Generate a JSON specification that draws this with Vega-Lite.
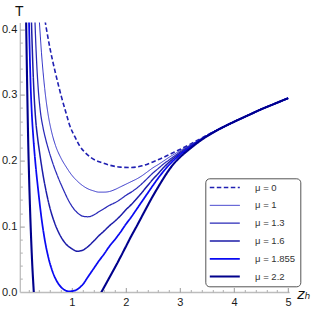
{
  "$schema": "https://vega.github.io/schema/vega-lite/v6.json",
  "width": 269.4,
  "height": 269.4,
  "autosize": {"type": "none"},
  "padding": {"left": 19.8, "top": 22.6, "right": 21.8, "bottom": 19},
  "background": "white",
  "config": {
    "view": {"stroke": null},
    "axis": {"grid": false, "labelFont": "Liberation Sans", "labelFontSize": 11, "labelColor": "#1a1a1a", "labelFlush": false, "labelOverlap": false}
  },
  "data": {"values": [
    {"mu":"μ = 0","z":0.47,"T":0.445},{"mu":"μ = 0","z":0.51,"T":0.412},{"mu":"μ = 0","z":0.55,"T":0.392},{"mu":"μ = 0","z":0.6,"T":0.37},{"mu":"μ = 0","z":0.7,"T":0.333},{"mu":"μ = 0","z":0.81,"T":0.297},{"mu":"μ = 0","z":0.9,"T":0.271},{"mu":"μ = 0","z":0.96,"T":0.254},{"mu":"μ = 0","z":1.06,"T":0.236},{"mu":"μ = 0","z":1.15,"T":0.222},{"mu":"μ = 0","z":1.25,"T":0.212},{"mu":"μ = 0","z":1.35,"T":0.205},{"mu":"μ = 0","z":1.45,"T":0.2},{"mu":"μ = 0","z":1.55,"T":0.197},{"mu":"μ = 0","z":1.7,"T":0.193},{"mu":"μ = 0","z":1.9,"T":0.19},{"mu":"μ = 0","z":2.1,"T":0.1895},{"mu":"μ = 0","z":2.3,"T":0.192},{"mu":"μ = 0","z":2.5,"T":0.198},{"mu":"μ = 0","z":2.7,"T":0.205},{"mu":"μ = 0","z":2.9,"T":0.213},{"mu":"μ = 0","z":3.1,"T":0.221},{"mu":"μ = 0","z":3.37,"T":0.233},{"mu":"μ = 0","z":3.6,"T":0.243},{"mu":"μ = 0","z":3.8,"T":0.251},{"mu":"μ = 0","z":4.0,"T":0.259},{"mu":"μ = 0","z":4.25,"T":0.2685},{"mu":"μ = 0","z":4.5,"T":0.278},{"mu":"μ = 0","z":4.75,"T":0.2865},{"mu":"μ = 0","z":5.0,"T":0.295},

    {"mu":"μ = 1","z":0.37,"T":0.455},{"mu":"μ = 1","z":0.4,"T":0.414},{"mu":"μ = 1","z":0.44,"T":0.365},{"mu":"μ = 1","z":0.5,"T":0.31},{"mu":"μ = 1","z":0.56,"T":0.272},{"mu":"μ = 1","z":0.63,"T":0.243},{"mu":"μ = 1","z":0.7,"T":0.223},{"mu":"μ = 1","z":0.8,"T":0.204},{"mu":"μ = 1","z":0.9,"T":0.19},{"mu":"μ = 1","z":1.0,"T":0.178},{"mu":"μ = 1","z":1.1,"T":0.169},{"mu":"μ = 1","z":1.2,"T":0.162},{"mu":"μ = 1","z":1.3,"T":0.157},{"mu":"μ = 1","z":1.4,"T":0.154},{"mu":"μ = 1","z":1.5,"T":0.152},{"mu":"μ = 1","z":1.6,"T":0.152},{"mu":"μ = 1","z":1.7,"T":0.153},{"mu":"μ = 1","z":1.8,"T":0.156},{"mu":"μ = 1","z":1.9,"T":0.16},{"mu":"μ = 1","z":2.0,"T":0.164},{"mu":"μ = 1","z":2.1,"T":0.168},{"mu":"μ = 1","z":2.2,"T":0.172},{"mu":"μ = 1","z":2.3,"T":0.177},{"mu":"μ = 1","z":2.4,"T":0.183},{"mu":"μ = 1","z":2.5,"T":0.189},{"mu":"μ = 1","z":2.6,"T":0.194},{"mu":"μ = 1","z":2.7,"T":0.1995},{"mu":"μ = 1","z":2.8,"T":0.205},{"mu":"μ = 1","z":2.9,"T":0.21},{"mu":"μ = 1","z":3.0,"T":0.215},{"mu":"μ = 1","z":3.2,"T":0.224},{"mu":"μ = 1","z":3.4,"T":0.2335},{"mu":"μ = 1","z":3.6,"T":0.243},{"mu":"μ = 1","z":3.8,"T":0.251},{"mu":"μ = 1","z":4.0,"T":0.259},{"mu":"μ = 1","z":4.25,"T":0.2685},{"mu":"μ = 1","z":4.5,"T":0.278},{"mu":"μ = 1","z":4.75,"T":0.2865},{"mu":"μ = 1","z":5.0,"T":0.295},

    {"mu":"μ = 1.3","z":0.3,"T":0.475},{"mu":"μ = 1.3","z":0.32,"T":0.414},{"mu":"μ = 1.3","z":0.35,"T":0.352},{"mu":"μ = 1.3","z":0.38,"T":0.31},{"mu":"μ = 1.3","z":0.42,"T":0.275},{"mu":"μ = 1.3","z":0.47,"T":0.25},{"mu":"μ = 1.3","z":0.52,"T":0.232},{"mu":"μ = 1.3","z":0.57,"T":0.217},{"mu":"μ = 1.3","z":0.65,"T":0.196},{"mu":"μ = 1.3","z":0.75,"T":0.174},{"mu":"μ = 1.3","z":0.85,"T":0.155},{"mu":"μ = 1.3","z":0.93,"T":0.141},{"mu":"μ = 1.3","z":1.0,"T":0.131},{"mu":"μ = 1.3","z":1.1,"T":0.121},{"mu":"μ = 1.3","z":1.2,"T":0.1155},{"mu":"μ = 1.3","z":1.3,"T":0.1145},{"mu":"μ = 1.3","z":1.4,"T":0.117},{"mu":"μ = 1.3","z":1.5,"T":0.122},{"mu":"μ = 1.3","z":1.6,"T":0.127},{"mu":"μ = 1.3","z":1.7,"T":0.132},{"mu":"μ = 1.3","z":1.8,"T":0.136},{"mu":"μ = 1.3","z":1.9,"T":0.141},{"mu":"μ = 1.3","z":2.0,"T":0.147},{"mu":"μ = 1.3","z":2.1,"T":0.152},{"mu":"μ = 1.3","z":2.2,"T":0.158},{"mu":"μ = 1.3","z":2.3,"T":0.165},{"mu":"μ = 1.3","z":2.4,"T":0.173},{"mu":"μ = 1.3","z":2.5,"T":0.181},{"mu":"μ = 1.3","z":2.6,"T":0.188},{"mu":"μ = 1.3","z":2.7,"T":0.195},{"mu":"μ = 1.3","z":2.8,"T":0.201},{"mu":"μ = 1.3","z":2.9,"T":0.207},{"mu":"μ = 1.3","z":3.0,"T":0.213},{"mu":"μ = 1.3","z":3.2,"T":0.223},{"mu":"μ = 1.3","z":3.4,"T":0.233},{"mu":"μ = 1.3","z":3.6,"T":0.2428},{"mu":"μ = 1.3","z":3.8,"T":0.251},{"mu":"μ = 1.3","z":4.0,"T":0.259},{"mu":"μ = 1.3","z":4.25,"T":0.2685},{"mu":"μ = 1.3","z":4.5,"T":0.278},{"mu":"μ = 1.3","z":4.75,"T":0.2865},{"mu":"μ = 1.3","z":5.0,"T":0.295},

    {"mu":"μ = 1.6","z":0.24,"T":0.47},{"mu":"μ = 1.6","z":0.255,"T":0.414},{"mu":"μ = 1.6","z":0.275,"T":0.36},{"mu":"μ = 1.6","z":0.3,"T":0.307},{"mu":"μ = 1.6","z":0.33,"T":0.266},{"mu":"μ = 1.6","z":0.37,"T":0.234},{"mu":"μ = 1.6","z":0.41,"T":0.21},{"mu":"μ = 1.6","z":0.47,"T":0.178},{"mu":"μ = 1.6","z":0.53,"T":0.152},{"mu":"μ = 1.6","z":0.6,"T":0.127},{"mu":"μ = 1.6","z":0.68,"T":0.106},{"mu":"μ = 1.6","z":0.75,"T":0.092},{"mu":"μ = 1.6","z":0.83,"T":0.08},{"mu":"μ = 1.6","z":0.93,"T":0.07},{"mu":"μ = 1.6","z":1.0,"T":0.066},{"mu":"μ = 1.6","z":1.1,"T":0.062},{"mu":"μ = 1.6","z":1.2,"T":0.0635},{"mu":"μ = 1.6","z":1.3,"T":0.069},{"mu":"μ = 1.6","z":1.4,"T":0.077},{"mu":"μ = 1.6","z":1.5,"T":0.0855},{"mu":"μ = 1.6","z":1.6,"T":0.093},{"mu":"μ = 1.6","z":1.7,"T":0.101},{"mu":"μ = 1.6","z":1.8,"T":0.108},{"mu":"μ = 1.6","z":1.9,"T":0.116},{"mu":"μ = 1.6","z":2.0,"T":0.125},{"mu":"μ = 1.6","z":2.1,"T":0.133},{"mu":"μ = 1.6","z":2.2,"T":0.142},{"mu":"μ = 1.6","z":2.3,"T":0.1516},{"mu":"μ = 1.6","z":2.4,"T":0.1617},{"mu":"μ = 1.6","z":2.5,"T":0.1714},{"mu":"μ = 1.6","z":2.6,"T":0.1805},{"mu":"μ = 1.6","z":2.7,"T":0.1896},{"mu":"μ = 1.6","z":2.8,"T":0.1975},{"mu":"μ = 1.6","z":2.9,"T":0.2046},{"mu":"μ = 1.6","z":3.0,"T":0.2109},{"mu":"μ = 1.6","z":3.2,"T":0.2219},{"mu":"μ = 1.6","z":3.4,"T":0.2327},{"mu":"μ = 1.6","z":3.6,"T":0.2425},{"mu":"μ = 1.6","z":3.8,"T":0.251},{"mu":"μ = 1.6","z":4.0,"T":0.259},{"mu":"μ = 1.6","z":4.25,"T":0.2685},{"mu":"μ = 1.6","z":4.5,"T":0.278},{"mu":"μ = 1.6","z":4.75,"T":0.2865},{"mu":"μ = 1.6","z":5.0,"T":0.295},

    {"mu":"μ = 1.855","z":0.2,"T":0.46},{"mu":"μ = 1.855","z":0.21,"T":0.414},{"mu":"μ = 1.855","z":0.225,"T":0.36},{"mu":"μ = 1.855","z":0.24,"T":0.315},{"mu":"μ = 1.855","z":0.26,"T":0.275},{"mu":"μ = 1.855","z":0.29,"T":0.235},{"mu":"μ = 1.855","z":0.33,"T":0.195},{"mu":"μ = 1.855","z":0.38,"T":0.155},{"mu":"μ = 1.855","z":0.44,"T":0.113},{"mu":"μ = 1.855","z":0.5,"T":0.08},{"mu":"μ = 1.855","z":0.57,"T":0.052},{"mu":"μ = 1.855","z":0.65,"T":0.03},{"mu":"μ = 1.855","z":0.75,"T":0.013},{"mu":"μ = 1.855","z":0.85,"T":0.004},{"mu":"μ = 1.855","z":0.95,"T":0.001},{"mu":"μ = 1.855","z":1.05,"T":0.002},{"mu":"μ = 1.855","z":1.15,"T":0.007},{"mu":"μ = 1.855","z":1.2,"T":0.011},{"mu":"μ = 1.855","z":1.3,"T":0.023},{"mu":"μ = 1.855","z":1.4,"T":0.035},{"mu":"μ = 1.855","z":1.5,"T":0.047},{"mu":"μ = 1.855","z":1.6,"T":0.058},{"mu":"μ = 1.855","z":1.7,"T":0.07},{"mu":"μ = 1.855","z":1.8,"T":0.08},{"mu":"μ = 1.855","z":1.9,"T":0.091},{"mu":"μ = 1.855","z":2.0,"T":0.103},{"mu":"μ = 1.855","z":2.1,"T":0.114},{"mu":"μ = 1.855","z":2.2,"T":0.126},{"mu":"μ = 1.855","z":2.3,"T":0.138},{"mu":"μ = 1.855","z":2.4,"T":0.15},{"mu":"μ = 1.855","z":2.5,"T":0.162},{"mu":"μ = 1.855","z":2.6,"T":0.1735},{"mu":"μ = 1.855","z":2.7,"T":0.184},{"mu":"μ = 1.855","z":2.8,"T":0.1935},{"mu":"μ = 1.855","z":2.9,"T":0.2016},{"mu":"μ = 1.855","z":3.0,"T":0.2087},{"mu":"μ = 1.855","z":3.2,"T":0.221},{"mu":"μ = 1.855","z":3.4,"T":0.2323},{"mu":"μ = 1.855","z":3.6,"T":0.2423},{"mu":"μ = 1.855","z":3.8,"T":0.251},{"mu":"μ = 1.855","z":4.0,"T":0.259},{"mu":"μ = 1.855","z":4.25,"T":0.2685},{"mu":"μ = 1.855","z":4.5,"T":0.278},{"mu":"μ = 1.855","z":4.75,"T":0.2865},{"mu":"μ = 1.855","z":5.0,"T":0.295},

    {"mu":"μ = 2.2","z":0.15,"T":0.46},{"mu":"μ = 2.2","z":0.157,"T":0.414},{"mu":"μ = 2.2","z":0.165,"T":0.37},{"mu":"μ = 2.2","z":0.175,"T":0.32},{"mu":"μ = 2.2","z":0.185,"T":0.272},{"mu":"μ = 2.2","z":0.195,"T":0.23},{"mu":"μ = 2.2","z":0.21,"T":0.18},{"mu":"μ = 2.2","z":0.23,"T":0.125},{"mu":"μ = 2.2","z":0.25,"T":0.08},{"mu":"μ = 2.2","z":0.27,"T":0.042},{"mu":"μ = 2.2","z":0.29,"T":0.012},{"mu":"μ = 2.2","z":0.31,"T":-0.015},{"mu":"μ = 2.2","z":0.35,"T":-0.06},{"mu":"μ = 2.2","z":0.45,"T":-0.13},{"mu":"μ = 2.2","z":0.8,"T":-0.2},{"mu":"μ = 2.2","z":1.2,"T":-0.07},{"mu":"μ = 2.2","z":1.3,"T":-0.048},{"mu":"μ = 2.2","z":1.4,"T":-0.028},{"mu":"μ = 2.2","z":1.5,"T":-0.008},{"mu":"μ = 2.2","z":1.55,"T":0.0},{"mu":"μ = 2.2","z":1.6,"T":0.0075},{"mu":"μ = 2.2","z":1.7,"T":0.0225},{"mu":"μ = 2.2","z":1.8,"T":0.0375},{"mu":"μ = 2.2","z":1.9,"T":0.053},{"mu":"μ = 2.2","z":2.0,"T":0.069},{"mu":"μ = 2.2","z":2.1,"T":0.085},{"mu":"μ = 2.2","z":2.2,"T":0.1},{"mu":"μ = 2.2","z":2.3,"T":0.1155},{"mu":"μ = 2.2","z":2.4,"T":0.131},{"mu":"μ = 2.2","z":2.5,"T":0.146},{"mu":"μ = 2.2","z":2.6,"T":0.16},{"mu":"μ = 2.2","z":2.7,"T":0.1735},{"mu":"μ = 2.2","z":2.8,"T":0.186},{"mu":"μ = 2.2","z":2.9,"T":0.1965},{"mu":"μ = 2.2","z":3.0,"T":0.205},{"mu":"μ = 2.2","z":3.2,"T":0.219},{"mu":"μ = 2.2","z":3.4,"T":0.2316},{"mu":"μ = 2.2","z":3.6,"T":0.242},{"mu":"μ = 2.2","z":3.8,"T":0.251},{"mu":"μ = 2.2","z":4.0,"T":0.259},{"mu":"μ = 2.2","z":4.25,"T":0.2685},{"mu":"μ = 2.2","z":4.5,"T":0.278},{"mu":"μ = 2.2","z":4.75,"T":0.2865},{"mu":"μ = 2.2","z":5.0,"T":0.295}
  ]},
  "layer": [
    {
      "mark": {"type": "line", "interpolate": "monotone", "clip": true},
      "encoding": {
        "x": {"field": "z", "type": "quantitative", "scale": {"domain": [0.04, 5.02], "nice": false, "zero": false},
          "axis": {"orient": "bottom", "values": [1, 2, 3, 4, 5], "format": "d", "ticks": false, "domainColor": "#bdbdbd", "domainWidth": 1.3, "labelPadding": 4.5,
            "title": "zₕ", "titleFont": "DejaVu Sans", "titleFontStyle": "italic", "titleFontWeight": "normal", "titleFontSize": 14, "titleColor": "#111",
            "titleX": 277, "titleY": 6.5, "titleAlign": "left", "titleBaseline": "alphabetic"}},
        "y": {"field": "T", "type": "quantitative", "scale": {"domain": [0, 0.41], "nice": false, "zero": false},
          "axis": {"orient": "left", "values": [0, 0.1, 0.2, 0.3, 0.4], "format": ".1f", "ticks": false, "domainColor": "#bdbdbd", "domainWidth": 1.3, "labelPadding": 3,
            "title": "T", "titleFont": "Liberation Sans", "titleFontWeight": "normal", "titleFontSize": 14, "titleColor": "#111", "titleAngle": 0,
            "titleX": -1, "titleY": -7.6, "titleAlign": "center", "titleBaseline": "alphabetic"}},
        "color": {"field": "mu", "type": "nominal",
          "scale": {"domain": ["μ = 0", "μ = 1", "μ = 1.3", "μ = 1.6", "μ = 1.855", "μ = 2.2"], "range": ["#2020b2", "#3434c8", "#2a2ab8", "#1c1ca8", "#0a0af2", "#00008c"]},
          "legend": {"orient": "none", "legendX": 185.5, "legendY": 155.7, "title": null, "padding": 4.5, "rowPadding": 6.8,
            "symbolType": "M-5,0H5", "symbolSize": 36, "symbolOffset": 10.25, "labelOffset": 25.5,
            "labelFont": "Liberation Sans", "labelFontSize": 9.5, "labelColor": "#333",
            "fillColor": "white", "strokeColor": "#555", "cornerRadius": 4}},
        "strokeWidth": {"field": "mu", "type": "nominal",
          "scale": {"type": "ordinal", "domain": ["μ = 0", "μ = 1", "μ = 1.3", "μ = 1.6", "μ = 1.855", "μ = 2.2"], "range": [1.6, 1.0, 1.25, 1.5, 1.75, 2.1]}},
        "strokeDash": {"field": "mu", "type": "nominal",
          "scale": {"domain": ["μ = 0", "μ = 1", "μ = 1.3", "μ = 1.6", "μ = 1.855", "μ = 2.2"], "range": [[4.5, 2.5], [1, 0], [1, 0], [1, 0], [1, 0], [1, 0]]}}
      }
    },
    {
      "mark": {"type": "point", "opacity": 0},
      "encoding": {
        "x": {"field": "z", "type": "quantitative", "scale": {"domain": [0.04, 5.02], "nice": false, "zero": false},
          "axis": {"orient": "bottom", "values": [1, 2, 3, 4, 5], "labels": false, "domain": false, "ticks": true, "tickSize": -4.5, "tickColor": "#9a9a9a", "tickWidth": 1, "title": null}},
        "y": {"field": "T", "type": "quantitative", "scale": {"domain": [0, 0.41], "nice": false, "zero": false},
          "axis": {"orient": "left", "values": [0.1, 0.2, 0.3, 0.4], "labels": false, "domain": false, "ticks": true, "tickSize": -4.5, "tickColor": "#9a9a9a", "tickWidth": 1, "title": null}}
      }
    },
    {
      "mark": {"type": "point", "opacity": 0},
      "encoding": {
        "x": {"field": "z", "type": "quantitative", "scale": {"domain": [0.04, 5.02], "nice": false, "zero": false},
          "axis": {"orient": "bottom", "values": [0.2, 0.4, 0.6, 0.8, 1.2, 1.4, 1.6, 1.8, 2.2, 2.4, 2.6, 2.8, 3.2, 3.4, 3.6, 3.8, 4.2, 4.4, 4.6, 4.8], "labels": false, "domain": false, "ticks": true, "tickSize": -2.5, "tickColor": "#b0b0b0", "tickWidth": 1, "title": null}},
        "y": {"field": "T", "type": "quantitative", "scale": {"domain": [0, 0.41], "nice": false, "zero": false},
          "axis": {"orient": "left", "values": [0.02, 0.04, 0.06, 0.08, 0.12, 0.14, 0.16, 0.18, 0.22, 0.24, 0.26, 0.28, 0.32, 0.34, 0.36, 0.38], "labels": false, "domain": false, "ticks": true, "tickSize": -2.5, "tickColor": "#b0b0b0", "tickWidth": 1, "title": null}}
      }
    }
  ],
  "resolve": {"axis": {"x": "independent", "y": "independent"}}
}
